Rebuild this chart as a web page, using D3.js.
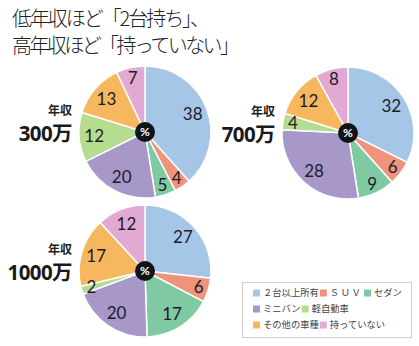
<!DOCTYPE html>
<html><head><meta charset="utf-8">
<script src="https://cdn.jsdelivr.net/npm/d3@7"></script>
<style>body{margin:0;background:#fff}svg{display:block}</style>
</head><body>
<svg id="c" width="419" height="346"></svg>
<script>
const categories = ["２台以上所有","ＳＵＶ","セダン","ミニバン","軽自動車","その他の車種","持っていない"];
const colors = ["#a6c6e8","#f0937c","#7fcaa2","#a898ca","#b6dc90","#f7b75e","#e2aad2"];
const incomes = ["300万","700万","1000万"];
const values300 = [38,4,5,20,12,13,7];
const values700 = [32,6,9,28,4,12,8];
const values1000 = [27,6,17,20,2,17,12];
const titleLines = ["低年収ほど「2台持ち」、","高年収ほど「持っていない」"];
const legendRows = [[0,1,2],[3,4],[5,6]];

const svg = d3.select("#c");
const R = 66;
const pies = [
  {vals: values300, cx: 145, cy: 132, lx: 72, label: incomes[0]},
  {vals: values700, cx: 348, cy: 133, lx: 275, label: incomes[1]},
  {vals: values1000, cx: 145, cy: 271, lx: 72, label: incomes[2]}
];

// title
const titleWidths = [198, 228];
svg.selectAll("text.title").data(titleLines).join("text")
  .attr("class","title")
  .attr("x", 12).attr("y", (d,i)=> 26 + i*27)
  .attr("font-family","'Noto Sans CJK JP'")
  .attr("font-weight",300)
  .attr("font-size",20)
  .attr("fill","#222")
  .attr("textLength",(d,i)=>titleWidths[i])
  .attr("lengthAdjust","spacing")
  .text(d=>d);

const pie = d3.pie().sort(null);
const arc = d3.arc().innerRadius(0).outerRadius(R);

pies.forEach(p=>{
  const g = svg.append("g").attr("transform",`translate(${p.cx},${p.cy})`);
  const arcs = pie(p.vals);
  g.selectAll("path").data(arcs).join("path")
    .attr("d", arc)
    .attr("fill",(d,i)=>colors[i])
    .attr("stroke","#fff").attr("stroke-width",1.5);
  g.selectAll("text.v").data(arcs).join("text")
    .attr("class","v")
    .attr("transform", d=>{
      const a = (d.startAngle+d.endAngle)/2;
      const r = d.value < 10 ? 56 : 51;
      return `translate(${Math.sin(a)*r},${-Math.cos(a)*r})`;
    })
    .attr("text-anchor","middle").attr("dy","0.36em")
    .attr("font-family","Lato").attr("font-weight",400)
    .attr("font-size",17).attr("fill","#1c1c28")
    .text(d=>d.data);
  g.append("circle").attr("r",10).attr("fill","#0f1418");
  g.append("text").attr("text-anchor","middle").attr("dy","0.36em")
    .attr("font-family","Lato").attr("font-weight",700).attr("font-size",12)
    .attr("fill","#fff").text("%");
  svg.append("text").attr("x",p.lx).attr("y",p.cy-17)
    .attr("text-anchor","end").attr("font-family","'Noto Sans CJK JP'")
    .attr("font-weight",700).attr("font-size",12).attr("fill","#222").text("年収");
  svg.append("text").attr("x",p.lx).attr("y",p.cy+9)
    .attr("text-anchor","end").attr("font-family","'Noto Sans', 'Noto Sans CJK JP'")
    .attr("font-weight",700).attr("font-size",20.5).attr("letter-spacing",-0.6)
    .attr("fill","#1a1a1a").text(p.label);
});

// legend
const lg = svg.append("g");
lg.append("rect").attr("x",242.5).attr("y",282.5).attr("width",169).attr("height",55)
  .attr("fill","#fff").attr("stroke","#cfcfcf").attr("stroke-width",1);
legendRows.forEach((row,ri)=>{
  let x = 253;
  const y = 293 + ri*16;
  row.forEach(ci=>{
    lg.append("rect").attr("x",x).attr("y",y-3.5).attr("width",7).attr("height",7).attr("fill",colors[ci]);
    const t = lg.append("text").attr("x",x+10).attr("y",y).attr("dy","0.36em")
      .attr("font-family","'Noto Sans CJK JP'").attr("font-size",9.3)
      .attr("letter-spacing", ci===1 ? 1.6 : 0).attr("fill","#444").text(categories[ci]);
    x += 10 + t.node().getComputedTextLength() + (ci===1 ? 1.5 : 1);
  });
});
</script>
</body></html>
